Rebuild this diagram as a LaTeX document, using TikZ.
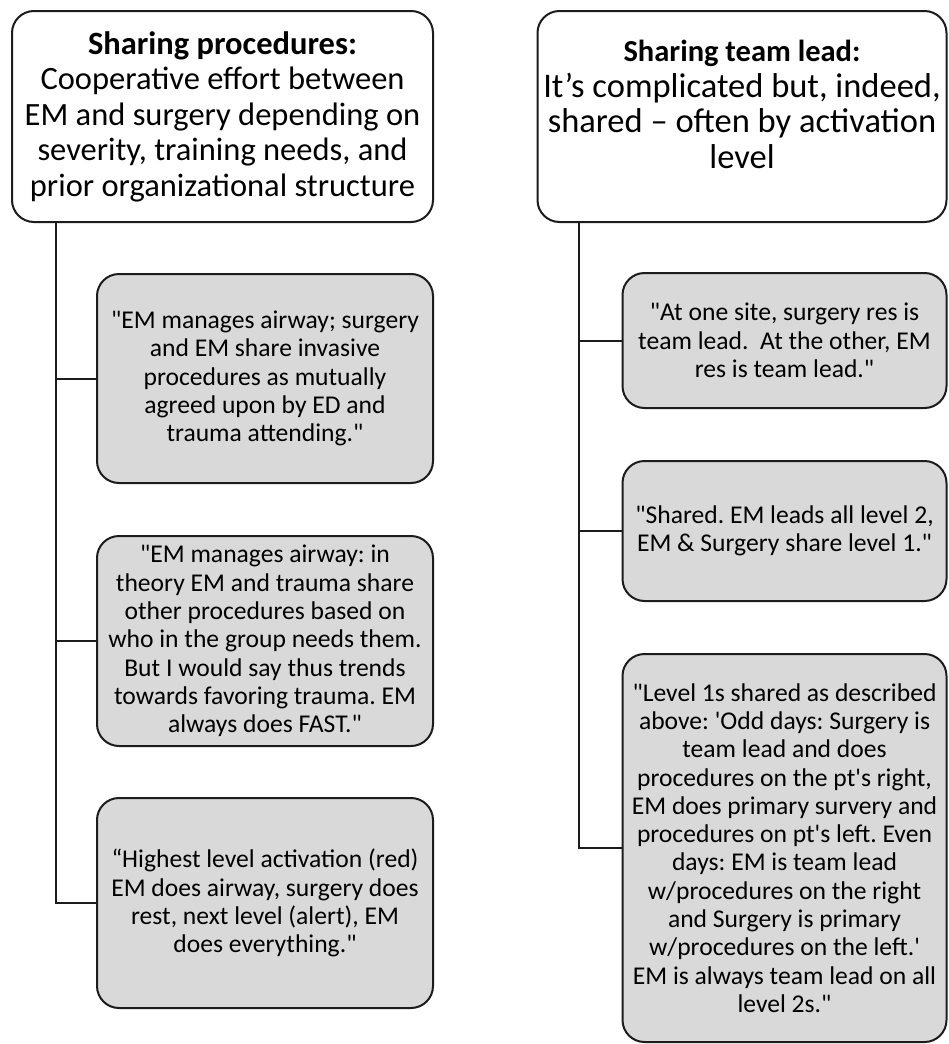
\documentclass[tikz,border=0pt]{standalone}
\usepackage{fontspec}
\setmainfont{Carlito}[Ligatures=TeXOff]
\frenchspacing
\definecolor{boxgray}{HTML}{D9D9D9}
\definecolor{edge}{HTML}{1C1C1C}

\begin{document}
\begin{tikzpicture}[x=1pt,y=-1pt,
  box/.style={draw=edge,line width=2pt,rounded corners=22pt,align=center,inner sep=0pt},
  head/.style={box,fill=white,font=\fontsize{32.5}{35.5}\selectfont},
  quote/.style={box,fill=boxgray,font=\fontsize{25.6}{28.3}\selectfont,minimum width=336pt},
  link/.style={draw=edge,line width=2pt}]
\useasboundingbox[fill=white] (0,0) rectangle (949,1044);

\node (proc)[head,minimum width=421pt,minimum height=211pt] at (222.5,116.5)
  {\textbf{Sharing procedures:}\\ Cooperative effort between\\ EM and surgery depending on\\ severity, training needs, and\\ prior organizational structure};
\node (lead)[head,font=\fontsize{34.5}{35.5}\selectfont,minimum width=409pt,minimum height=211pt] at (742,116.5)
  {{\fontsize{30.5}{35.5}\selectfont\bfseries Sharing team lead:}\\ It’s complicated but, indeed,\\ shared – often by activation\\ level\rule[-24pt]{0pt}{24pt}};

\node (p1)[quote,minimum height=209pt] at (265,378.5)
  {"EM manages airway; surgery\\ and EM share invasive\\ procedures as mutually\\ agreed upon by ED and\\ trauma attending."};
\node (p2)[quote,minimum height=210pt] at (265,641)
  {"EM manages airway: in\\ theory EM and trauma share\\ other procedures based on\\ who in the group needs them.\\ But I would say thus trends\\ towards favoring trauma. EM\\ always does FAST."};
\node (p3)[quote,minimum height=210pt] at (265,903)
  {“Highest level activation (red)\\ EM does airway, surgery does\\ rest, next level (alert), EM\\ does everything."};

\node (l1)[quote,minimum width=324pt,minimum height=135pt] at (784.5,340.5)
  {"At one site, surgery res is\\ team lead.\ \ At the other, EM\\ res is team lead."};
\node (l2)[quote,minimum width=324pt,minimum height=140pt] at (784.5,531)
  {"Shared. EM leads all level 2,\\ EM \& Surgery share level 1."};
\node (l3)[quote,minimum width=324pt,minimum height=388pt] at (784.5,848)
  {"Level 1s shared as described\\ above: 'Odd days: Surgery is\\ team lead and does\\ procedures on the pt's right,\\ EM does primary survery and\\ procedures on pt's left. Even\\ days: EM is team lead\\ w/procedures on the right\\ and Surgery is primary\\ w/procedures on the left.'\\ EM is always team lead on all\\ level 2s."};

\coordinate (ptrunk) at (56,0);
\coordinate (ltrunk) at (579,0);
\draw[link] (proc.south -| ptrunk) |- (p3.west);
\draw[link] (ptrunk |- p1.west) -- (p1.west);
\draw[link] (ptrunk |- p2.west) -- (p2.west);
\draw[link] (lead.south -| ltrunk) |- (l3.west);
\draw[link] (ltrunk |- l1.west) -- (l1.west);
\draw[link] (ltrunk |- l2.west) -- (l2.west);
\end{tikzpicture}
\end{document}
